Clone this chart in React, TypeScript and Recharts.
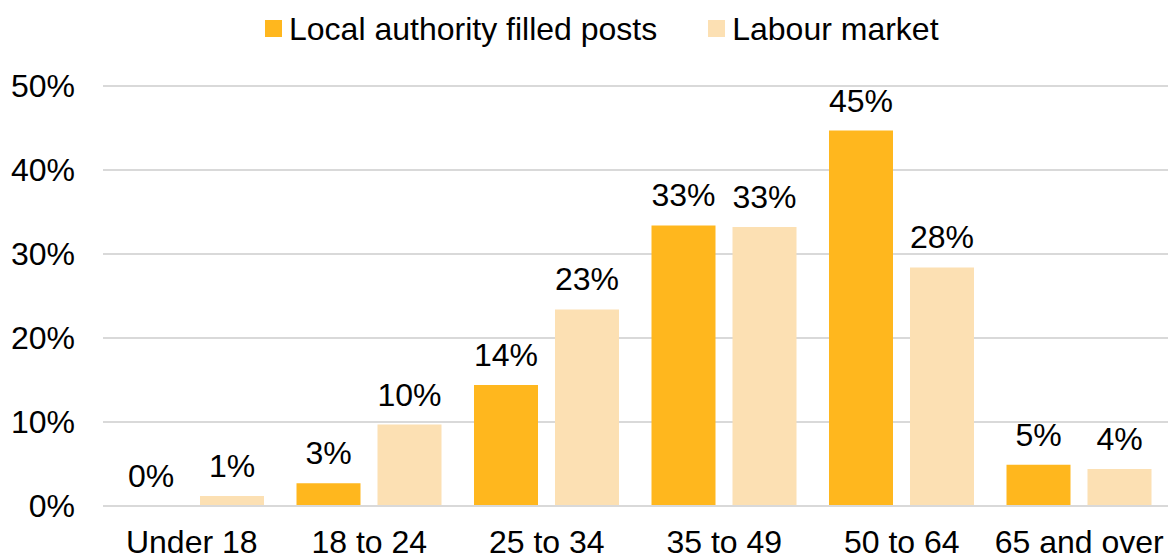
import { Bar, BarChart, CartesianGrid, LabelList, Legend, XAxis, YAxis } from 'recharts'

const LOCAL = '#FFB71E'
const LABOUR = '#FCE0B3'
const INK = '#000000'
const FONT = 'Liberation Sans, Arial, sans-serif'
const FS = 32

const ageBands = ['Under 18', '18 to 24', '25 to 34', '35 to 49', '50 to 64', '65 and over']
const localPosts = [0, 2.7, 14.4, 33.4, 44.7, 4.9]
const labourMarket = [1.2, 9.7, 23.4, 33.2, 28.4, 4.4]
const yTicks = [0, 10, 20, 30, 40, 50]

const data = ageBands.map((band, i) => ({
  band,
  local: localPosts[i],
  labour: labourMarket[i],
}))

const pct = (v: number) => `${Math.round(v)}%`

function LegendBox() {
  const item = (color: string, text: string, ml: number) => (
    <div style={{ display: 'flex', alignItems: 'center', marginLeft: ml }}>
      <span style={{ width: 17, height: 17, background: color, display: 'inline-block' }} />
      <span style={{ marginLeft: 7, fontSize: FS, color: INK, fontFamily: FONT, lineHeight: `${FS}px` }}>{text}</span>
    </div>
  )
  return (
    <div style={{ display: 'flex', alignItems: 'center', height: 57 }}>
      {item(LOCAL, 'Local authority filled posts', 265)}
      {item(LABOUR, 'Labour market', 51)}
    </div>
  )
}

export default function App() {
  return (
    <div style={{ position: 'absolute', left: 0, top: 0, width: 1168, height: 555, background: '#fff' }}>
      <BarChart
        width={1168}
        height={555}
        data={data}
        margin={{ top: 0, right: 0, left: 0, bottom: 0 }}
        barCategoryGap={16}
        barGap={17}
      >
        <CartesianGrid vertical={false} stroke="#D9D9D9" strokeWidth={2} />
        <XAxis
          dataKey="band"
          height={49}
          tickLine={false}
          tickSize={0}
          tickMargin={24}
          axisLine={{ stroke: '#D9D9D9', strokeWidth: 2 }}
          tick={{ fontSize: FS, fill: INK, fontFamily: FONT }}
          interval={0}
        />
        <YAxis
          width={103}
          domain={[0, 50]}
          ticks={yTicks}
          tickFormatter={(v: number) => `${v}%`}
          axisLine={false}
          tickLine={false}
          tickSize={0}
          tickMargin={28}
          tick={{ fontSize: FS, fill: INK, fontFamily: FONT }}
        />
        <Legend
          verticalAlign="top"
          align="left"
          height={86}
          wrapperStyle={{ top: 0, left: 0, width: 1168 }}
          content={() => <LegendBox />}
        />
        <Bar
          dataKey="local"
          name="Local authority filled posts"
          fill={LOCAL}
          minPointSize={0.01}
          isAnimationActive={false}
        >
          <LabelList
            dataKey="local"
            position="top"
            offset={19}
            formatter={(v: number) => pct(v)}
            style={{ fontSize: FS, fill: INK, fontFamily: FONT }}
          />
        </Bar>
        <Bar dataKey="labour" name="Labour market" fill={LABOUR} isAnimationActive={false}>
          <LabelList
            dataKey="labour"
            position="top"
            offset={19}
            formatter={(v: number) => pct(v)}
            style={{ fontSize: FS, fill: INK, fontFamily: FONT }}
          />
        </Bar>
      </BarChart>
    </div>
  )
}
